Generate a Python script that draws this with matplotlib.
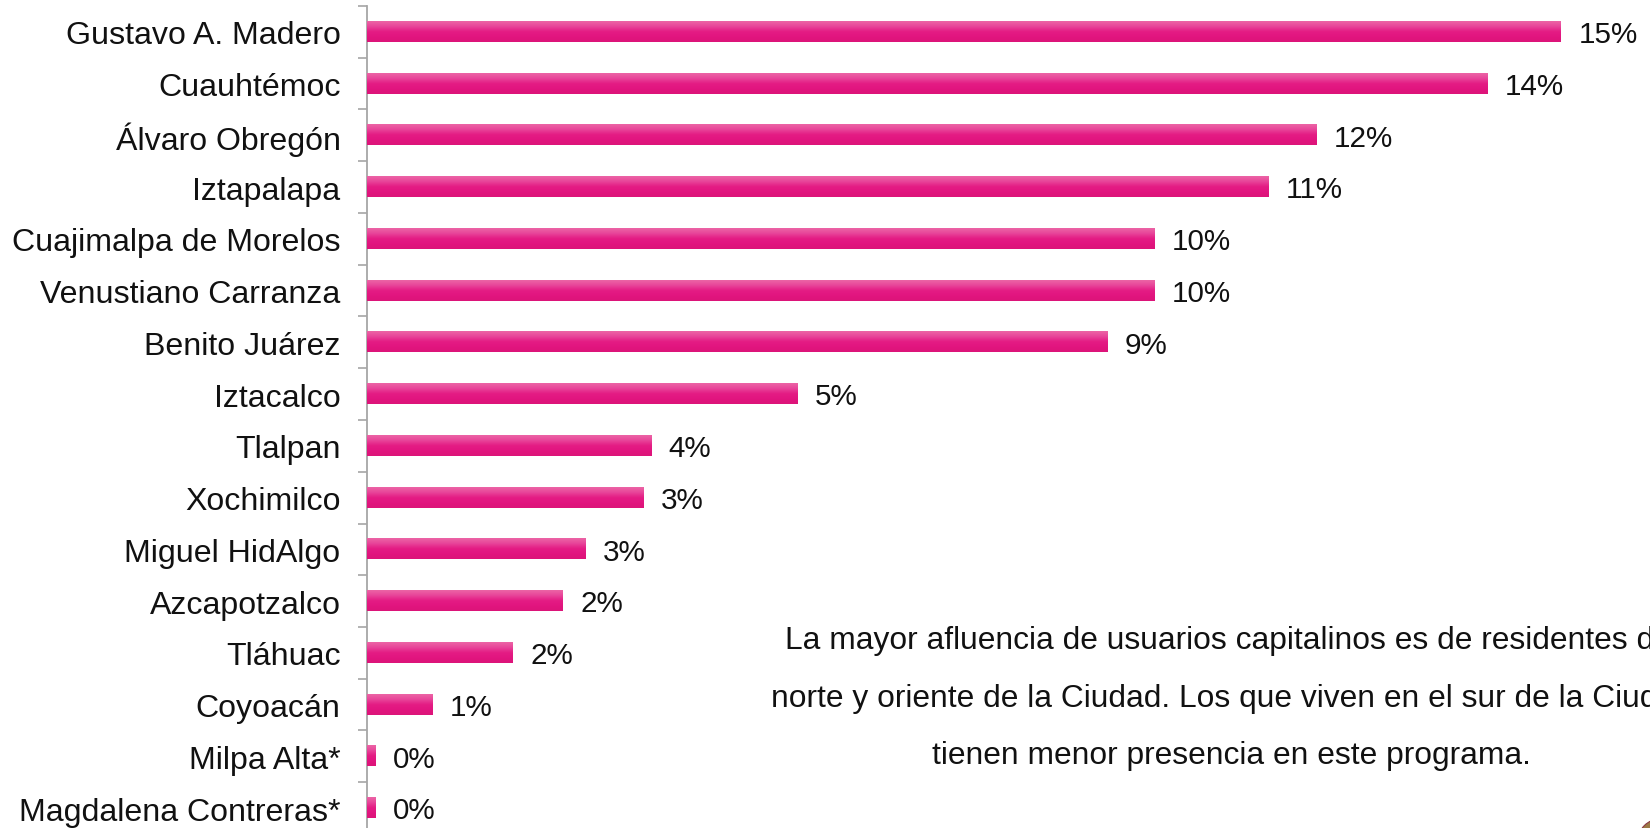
import matplotlib
matplotlib.use("Agg")
import matplotlib.pyplot as plt
import numpy as np
from matplotlib.colors import LinearSegmentedColormap
from matplotlib.patches import Ellipse

plt.rcParams['font.family'] = ['Liberation Sans', 'DejaVu Sans']

categories = ["Gustavo A. Madero", "Cuauhtémoc", "Álvaro Obregón", "Iztapalapa",
              "Cuajimalpa de Morelos", "Venustiano Carranza", "Benito Juárez",
              "Iztacalco", "Tlalpan", "Xochimilco", "Miguel HidAlgo", "Azcapotzalco",
              "Tláhuac", "Coyoacán", "Milpa Alta*", "Magdalena Contreras*"]
values = [15.0, 14.08, 11.93, 11.33, 9.89, 9.89, 9.30, 5.41, 3.57, 3.47, 2.75,
          2.46, 1.83, 0.82, 0.11, 0.11]
value_labels = ["15%", "14%", "12%", "11%", "10%", "10%", "9%", "5%", "4%", "3%",
                "3%", "2%", "2%", "1%", "0%", "0%"]
note_lines = ["La mayor afluencia de usuarios capitalinos es de residentes del",
              "norte y oriente de la Ciudad. Los que viven en el sur de la Ciudad",
              "tienen menor presencia en este programa."]

W, H = 1650, 829
fig = plt.figure(figsize=(W / 100, H / 100), dpi=100)
ax_left = 367 / W
ax_top_px, ax_bot_px = 7, 835
ax = fig.add_axes([ax_left, 1 - ax_bot_px / H, 1 - ax_left, (ax_bot_px - ax_top_px) / H])

n = len(categories)
y = np.arange(n)
bar_h = 0.387
bars = ax.barh(y, values, height=bar_h, color="#E3197F", edgecolor="none")

cmap = LinearSegmentedColormap.from_list(
    "pinkgrad", ["#EC64A5", "#E8459A", "#E41C84", "#E2157F", "#DC1479"])
grad = np.linspace(0, 1, 64).reshape(-1, 1)
for b in bars:
    x0, y0, w, h = b.get_x(), b.get_y(), b.get_width(), b.get_height()
    ax.imshow(grad, cmap=cmap, aspect="auto", origin="upper",
              extent=(x0, x0 + w, y0 + h, y0), zorder=3, interpolation="bilinear")

for b, lab in zip(bars, value_labels):
    ax.annotate(lab, (b.get_width(), b.get_y() + b.get_height() / 2),
                xytext=(12.5, -7.4), textcoords="offset points",
                va="baseline", ha="left", fontsize=21.3, color="#111111")

ax.set_xlim(0, (W - 367) / 79.6)
ax.set_ylim(n - 0.5, -0.5)

ax.set_yticks(np.arange(-0.5, n, 1.0))
ax.set_yticklabels([])
ax.set_yticks(y, minor=True)
ax.set_yticklabels(categories, minor=True, fontsize=23.1, color="#111111")
ax.tick_params(axis="y", which="major", length=6.5, width=1.2, color="#A6A6A6")
ax.tick_params(axis="y", which="minor", length=0, pad=19)
ax.set_xticks([])
for s in ["top", "right", "bottom"]:
    ax.spines[s].set_visible(False)
ax.spines["left"].set_color("#A6A6A6")
ax.spines["left"].set_linewidth(1.3)
ax.set_facecolor("none")

cx = 1231.5 / W
for line, py in zip(note_lines, [641, 699, 756]):
    fig.text(cx, 1 - py / H, line, ha="center", va="center", fontsize=22.9, color="#111111")

fig.patches.append(Ellipse((1660 / W, 1 - 842 / H), 44 / W, 44 / H,
                           transform=fig.transFigure, facecolor="#9C7A45",
                           edgecolor="#8A3A45", linewidth=0.8))

fig.savefig("out.png", dpi=100)
